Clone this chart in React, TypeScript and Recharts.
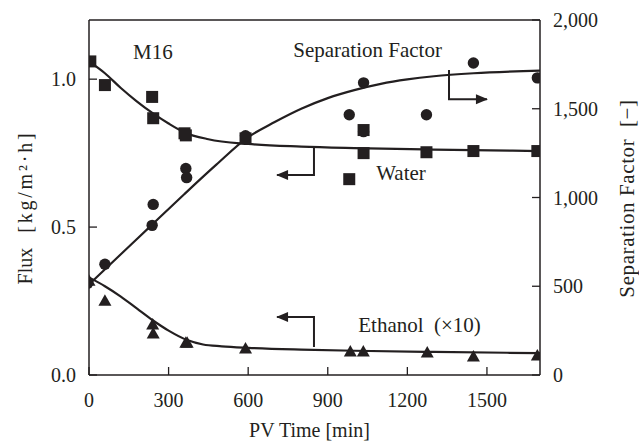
import React from 'react';
import { ComposedChart, Line, Scatter, XAxis, YAxis, ReferenceLine, ReferenceDot } from 'recharts';

const INK = '#231f20';
const FONT = "'Liberation Serif', 'DejaVu Serif', serif";

// tick labels
const timeTicks = [0, 300, 600, 900, 1200, 1500];
const fluxTicks = [0, 0.5, 1.0];
const sfTicks = [0, 500, 1000, 1500, 2000];

// measured points
const waterT = [5, 60, 238, 242, 360, 365, 590, 981, 1035, 1035, 1272, 1449, 1690];
const waterFlux = [1.06, 0.98, 0.94, 0.868, 0.817, 0.81, 0.8, 0.662, 0.828, 0.75, 0.753, 0.757, 0.757];

const sfT = [-5, 60, 238, 242, 365, 368, 590, 981, 1035, 1035, 1272, 1449, 1690];
const sfVal = [517, 624, 843, 961, 1163, 1112, 1348, 1466, 1646, 1371, 1466, 1758, 1674];

const ethT = [0, 60, 240, 242, 365, 370, 590, 985, 1034, 1275, 1449, 1690];
const ethFlux = [0.32, 0.253, 0.172, 0.142, 0.111, 0.111, 0.091, 0.081, 0.081, 0.078, 0.064, 0.068];

// fitted curves
const waterCurveT = [0, 60, 120, 180, 240, 300, 360, 450, 600, 800, 1000, 1300, 1700];
const waterCurveV = [1.06, 1.02, 0.97, 0.925, 0.885, 0.85, 0.82, 0.797, 0.781, 0.772, 0.767, 0.762, 0.757];

const sfCurveT = [0, 120, 240, 360, 480, 600, 700, 800, 900, 1000, 1100, 1200, 1300, 1450, 1700];
const sfCurveV = [510, 680, 850, 1020, 1185, 1340, 1425, 1500, 1560, 1605, 1640, 1665, 1683, 1700, 1715];

const ethCurveT = [0, 60, 120, 180, 240, 300, 370, 430, 500, 600, 800, 1000, 1300, 1700];
const ethCurveV = [0.33, 0.3, 0.265, 0.225, 0.185, 0.15, 0.118, 0.103, 0.097, 0.092, 0.086, 0.082, 0.078, 0.074];

// annotation arrows (polyline points: time, value)
const sfArrowT = [1357, 1357, 1500];
const sfArrowV = [1718, 1553, 1553];
const waterArrowT = [848, 848, 709];
const waterArrowV = [0.77, 0.676, 0.676];
const ethArrowT = [848, 848, 709];
const ethArrowV = [0.095, 0.196, 0.196];

const zip = (ts: number[], vs: number[]) => ts.map((t, i) => ({ t, v: vs[i] }));

const water = zip(waterT, waterFlux);
const sf = zip(sfT, sfVal);
const eth = zip(ethT, ethFlux);
const waterCurve = zip(waterCurveT, waterCurveV);
const sfCurve = zip(sfCurveT, sfCurveV);
const ethCurve = zip(ethCurveT, ethCurveV);
const sfArrow = zip(sfArrowT, sfArrowV);
const waterArrow = zip(waterArrowT, waterArrowV);
const ethArrow = zip(ethArrowT, ethArrowV);

const W = 639;
const H = 441;
const LEFT_W = 89;
const RIGHT_W = 99;
const BOTTOM_H = 66;
const TOP = 20;

const SquareShape = (p: any) => <rect x={p.cx - 6} y={p.cy - 6} width={12} height={12} fill={INK} />;
const CircleShape = (p: any) => <circle cx={p.cx} cy={p.cy} r={5.7} fill={INK} />;
const TriShape = (p: any) => (
  <polygon points={`${p.cx},${p.cy - 6} ${p.cx - 6.5},${p.cy + 5.5} ${p.cx + 6.5},${p.cy + 5.5}`} fill={INK} />
);
const HeadRight = (p: any) => (
  <polygon points={`${p.cx + 1},${p.cy} ${p.cx - 11},${p.cy - 5} ${p.cx - 11},${p.cy + 5}`} fill={INK} />
);
const HeadLeft = (p: any) => (
  <polygon points={`${p.cx - 1},${p.cy} ${p.cx + 11},${p.cy - 5} ${p.cx + 11},${p.cy + 5}`} fill={INK} />
);

const XTick = (p: any) => {
  const { x, y, payload } = p;
  return (
    <g>
      <line x1={x} x2={x} y1={y} y2={y - 8} stroke={INK} strokeWidth={1.3} />
      <text x={x} y={y + 32} textAnchor="middle" style={{ fontFamily: FONT }} fontSize={20} fill={INK}>
        {payload.value}
      </text>
    </g>
  );
};

const LeftTick = (p: any) => {
  const { x, y, payload } = p;
  return (
    <g>
      <line x1={x} x2={x + 8} y1={y} y2={y} stroke={INK} strokeWidth={1.3} />
      <text x={x - 13} y={y + 7} textAnchor="end" style={{ fontFamily: FONT }} fontSize={20} fill={INK}>
        {Number(payload.value).toFixed(1)}
      </text>
    </g>
  );
};

const RightTick = (p: any) => {
  const { x, y, payload } = p;
  return (
    <g>
      <line x1={x} x2={x - 8} y1={y} y2={y} stroke={INK} strokeWidth={1.3} />
      <text x={x + 13} y={y + 7} textAnchor="start" style={{ fontFamily: FONT }} fontSize={20} fill={INK}>
        {Number(payload.value).toLocaleString('en-US')}
      </text>
    </g>
  );
};

const noteLabel = (value: string) => ({
  value,
  position: 'center' as const,
  fontSize: 21,
  fill: INK,
  style: { fontFamily: FONT, whiteSpace: 'pre' },
});

export default function App() {
  const plotMidX = (LEFT_W + (W - RIGHT_W)) / 2;
  const plotMidY = (TOP + (H - BOTTOM_H)) / 2;
  return (
    <div style={{ position: 'absolute', left: 0, top: 0, width: W, height: H, background: '#fff', fontFamily: FONT }}>
      <ComposedChart width={W} height={H} margin={{ top: TOP, right: 0, bottom: 0, left: 0 }} style={{ fontFamily: FONT }}>
        <XAxis
          type="number"
          dataKey="t"
          domain={[0, 1700]}
          ticks={timeTicks}
          allowDataOverflow
          height={BOTTOM_H}
          tickSize={0}
          tickMargin={0}
          tickLine={false}
          tick={<XTick />}
          axisLine={{ stroke: INK, strokeWidth: 1.5 }}
          label={{
            content: () => (
              <text x={plotMidX - 5} y={H - 4} textAnchor="middle" style={{ fontFamily: FONT }} fontSize={20} fill={INK}>
                PV Time [min]
              </text>
            ),
          }}
        />
        <YAxis
          yAxisId="left"
          type="number"
          domain={[0, 1.2]}
          ticks={fluxTicks}
          allowDataOverflow
          width={LEFT_W}
          tickSize={0}
          tickMargin={0}
          tickLine={false}
          tick={<LeftTick />}
          axisLine={{ stroke: INK, strokeWidth: 1.5 }}
          label={{
            content: () => (
              <text
                x={32}
                y={plotMidY + 10}
                transform={`rotate(-90, 32, ${plotMidY + 10})`}
                textAnchor="middle"
                fontSize={20}
                fill={INK}
                style={{ whiteSpace: 'pre', fontFamily: FONT }}
              >
                <tspan>{'Flux   '}</tspan>
                <tspan style={{ letterSpacing: '2.8px' }}>{'[kg/m²·h]'}</tspan>
              </text>
            ),
          }}
        />
        <YAxis
          yAxisId="right"
          orientation="right"
          type="number"
          domain={[0, 2000]}
          ticks={sfTicks}
          allowDataOverflow
          width={RIGHT_W}
          tickSize={0}
          tickMargin={0}
          tickLine={false}
          tick={<RightTick />}
          axisLine={{ stroke: INK, strokeWidth: 1.5 }}
          label={{
            content: () => (
              <text
                x={634}
                y={plotMidY + 1}
                transform={`rotate(-90, 634, ${plotMidY + 1})`}
                textAnchor="middle"
                fontSize={21}
                fill={INK}
                style={{ whiteSpace: 'pre', fontFamily: FONT, letterSpacing: '0.6px' }}
              >
                {'Separation Factor  [−]'}
              </text>
            ),
          }}
        />
        <ReferenceLine yAxisId="left" y={1.2} stroke={INK} strokeWidth={1.5} />

        <Line data={waterCurve} dataKey="v" yAxisId="left" type="monotone" stroke={INK} strokeWidth={2.2} dot={false} activeDot={false} isAnimationActive={false} />
        <Line data={sfCurve} dataKey="v" yAxisId="right" type="monotone" stroke={INK} strokeWidth={2.2} dot={false} activeDot={false} isAnimationActive={false} />
        <Line data={ethCurve} dataKey="v" yAxisId="left" type="monotone" stroke={INK} strokeWidth={2.2} dot={false} activeDot={false} isAnimationActive={false} />

        <Line data={sfArrow} dataKey="v" yAxisId="right" type="linear" stroke={INK} strokeWidth={2} dot={false} activeDot={false} isAnimationActive={false} />
        <Line data={waterArrow} dataKey="v" yAxisId="left" type="linear" stroke={INK} strokeWidth={2} dot={false} activeDot={false} isAnimationActive={false} />
        <Line data={ethArrow} dataKey="v" yAxisId="left" type="linear" stroke={INK} strokeWidth={2} dot={false} activeDot={false} isAnimationActive={false} />
        <Scatter data={sfArrow.slice(2)} dataKey="v" yAxisId="right" shape={HeadRight} isAnimationActive={false} />
        <Scatter data={waterArrow.slice(2)} dataKey="v" yAxisId="left" shape={HeadLeft} isAnimationActive={false} />
        <Scatter data={ethArrow.slice(2)} dataKey="v" yAxisId="left" shape={HeadLeft} isAnimationActive={false} />

        <Scatter data={water} dataKey="v" yAxisId="left" shape={SquareShape} isAnimationActive={false} />
        <Scatter data={sf} dataKey="v" yAxisId="right" shape={CircleShape} isAnimationActive={false} />
        <Scatter data={eth} dataKey="v" yAxisId="left" shape={TriShape} isAnimationActive={false} />

        <ReferenceDot yAxisId="left" x={241} y={1.094} r={0} fill="none" stroke="none" label={noteLabel('M16')} />
        <ReferenceDot yAxisId="left" x={1050} y={1.1} r={0} fill="none" stroke="none" label={noteLabel('Separation Factor')} />
        <ReferenceDot yAxisId="left" x={1176} y={0.683} r={0} fill="none" stroke="none" label={noteLabel('Water')} />
        <ReferenceDot yAxisId="left" x={1246} y={0.169} r={0} fill="none" stroke="none" label={noteLabel('Ethanol\u00a0\u00a0(×10)')} />
      </ComposedChart>
    </div>
  );
}
